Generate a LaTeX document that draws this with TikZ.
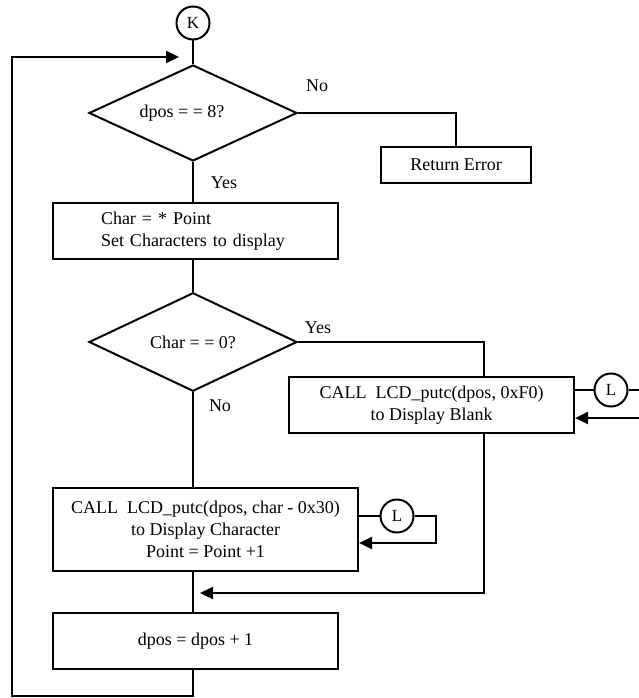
\documentclass[tikz,border=0pt]{standalone}
\usepackage{fontspec}
\setmainfont{Liberation Serif}
\usetikzlibrary{shapes.geometric,arrows.meta}
\tikzset{
  flow/.style={line width=2.2pt, line join=miter},
  arr/.style={flow, -{Triangle[length=13pt,width=12pt]}},
  box/.style={draw, line width=2.2pt, rectangle, inner sep=0pt, align=center,
    font=\fontsize{18}{22}\selectfont},
  decision/.style={draw, line width=2pt, diamond, inner sep=0pt,
    minimum width=208pt, minimum height=96pt, font=\fontsize{18}{22}\selectfont},
  conn/.style={draw, line width=2pt, circle, inner sep=0pt, minimum size=33pt,
    font=\fontsize{17}{18}\selectfont},
  lbl/.style={font=\fontsize{18}{22}\selectfont, inner sep=0pt}
}
\begin{document}
\begin{tikzpicture}[x=1pt,y=-1pt]
\useasboundingbox (0,0) rectangle (639,698);

% connectors
\node[conn] (K) at (193,23) {K};
\node[conn] (L1) at (611,390) {L};
\node[conn] (L2) at (397,516) {L};

% decisions
\node[decision, label={[lbl, xshift=-11pt]center:dpos = = 8?}] (d1) at (193,113) {};
\node[decision] (d2) at (193,342) {Char = = 0?};

% process boxes
\node[box, minimum width=150pt, minimum height=36pt] (err) at (456,165) {Return Error};
\node[box, inner xsep=48pt, text width=189pt, minimum height=56pt, align=left]
  (b2) at (195.5,231) {Char = * Point\\Set Characters to display};
\node[box, minimum width=285pt, minimum height=56pt] (b3) at (431.5,405)
  {CALL\ \ LCD\_putc(dpos, 0xF0)\\to Display Blank};
\node[box, minimum width=305pt, minimum height=83pt] (b4) at (205.5,529.5)
  {CALL\ \ LCD\_putc(dpos, char - 0x30)\\to Display Character\\Point = Point +1};
\node[box, minimum width=285pt, minimum height=56pt] (b5) at (195.5,641) {dpos = dpos + 1};

% helper points for routing
\coordinate (spine) at (193,0);
\coordinate (kin) at (179,57);
\coordinate (lt) at (12,57);
\coordinate (lb) at (12,696);
\coordinate (c3x) at (484,0);
\coordinate (rim) at (639,0);
\coordinate (c4) at (436,543);
\coordinate (mrg) at (200,593);

% flow lines
\draw[flow] (K) -- (d1.north);
\draw[flow] (d1.east) -| (err.north);
\draw[flow] (d1.south) -- (b2.north -| spine);
\draw[flow] (b2.south -| spine) -- (d2.north);
\draw[flow] (d2.east) -| (b3.north -| c3x);
\draw[flow] (d2.south) -- (b4.north -| spine);
\draw[flow] (b4.south -| spine) -- (b5.north -| spine);
\draw[arr] (b3.south -| c3x) |- (mrg);
\draw[flow] (L1.west -| b3.east) -- (L1.west);
\draw[flow] (L1.east) -- (L1.east -| rim);
\draw[arr] (b3.east |- 0,418) ++(65,0) -- (b3.east |- 0,418);
\draw[flow] (L2.west -| b4.east) -- (L2.west);
\draw[arr] (L2.east) -| (c4) -- (b4.east |- c4);
\draw[arr] (b5.south -| spine) |- (lb) -- (lt) -- (kin);

% branch labels
\node[lbl] (no1) at (317,86) {No};
\node[lbl] (yes1) at (224,183) {Yes};
\node[lbl] (yes2) at (318,328) {Yes};
\node[lbl] (no2) at (220,406) {No};
\end{tikzpicture}
\end{document}
